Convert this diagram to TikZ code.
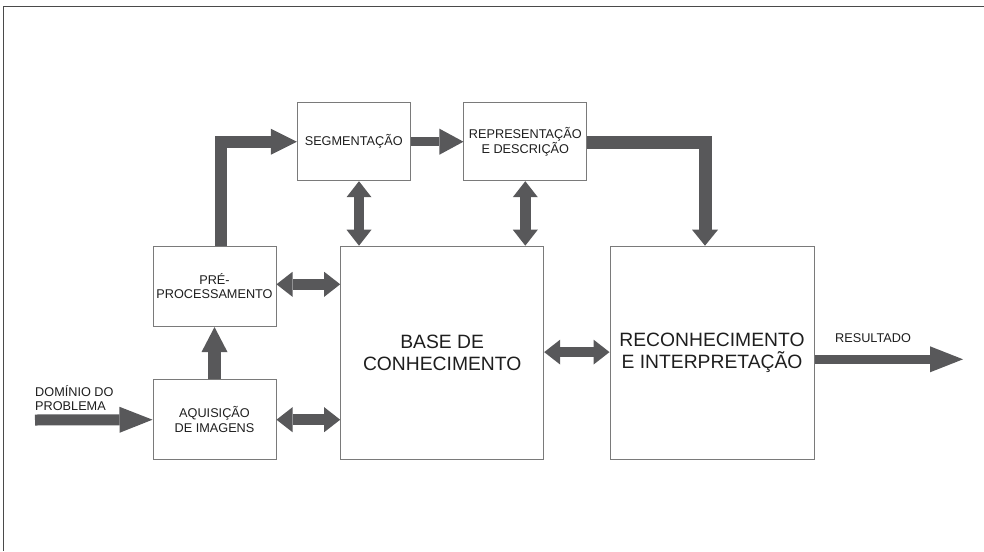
\documentclass[tikz,border=0pt]{standalone}
\usepackage{fontspec}
\setmainfont{Liberation Sans}
\usepackage{xcolor}
\usepackage{tikz}
\usetikzlibrary{arrows.meta, positioning}
\definecolor{arrowgray}{HTML}{58585A}
\definecolor{boxgray}{HTML}{7A7A7A}
\definecolor{framegray}{HTML}{4A4A4A}
\definecolor{inkgray}{HTML}{1E1E1E}

\begin{document}
\begin{tikzpicture}[
        x=1pt, y=-1pt,
        text=inkgray,
        stage/.style={
            draw=boxgray,
            line width=1pt,
            align=center,
            inner sep=0pt,
            font=\fontsize{12.7}{14.5}\selectfont
        },
        bigstage/.style={
            stage,
            minimum width=203pt,
            minimum height=213pt,
            font=\fontsize{19.3}{21.5}\selectfont
        },
        tag/.style={
            align=left,
            inner sep=0pt,
            font=\fontsize{12.7}{14.5}\selectfont
        },
        fat/.style={
            draw=arrowgray,
            line width=12pt,
            -{Triangle[length=#1, width=26pt, line width=0pt]}
        },
        fat/.default=26pt,
        twoway/.style={
            draw=arrowgray,
            line width=10.5pt,
            {Triangle[length=16pt, width=25pt, line width=0pt]}-{Triangle[length=16pt, width=25pt, line width=0pt]}
        }
    ]
        \useasboundingbox (0,0) rectangle (984,551);
        \draw[framegray, line width=1.2pt] (984,6.5) -- (3.7,6.5) -- (3.7,551);

        \node[stage, minimum width=123pt, minimum height=80.5pt] (pre) at (214.5,286.3) {PRÉ-\\PROCESSAMENTO};
        \node[stage, minimum width=123pt, minimum height=79.5pt] (aqu) at (214.5,419.7) {AQUISIÇÃO\\DE IMAGENS};
        \node[stage, minimum width=112.7pt, minimum height=78pt] (seg) at (353.7,141.7) {SEGMENTAÇÃO};
        \node[stage, minimum width=122.7pt, minimum height=78pt] (rep) at (525.3,141.7) {REPRESENTAÇÃO\\E DESCRIÇÃO};
        \node[bigstage] (base) at (442.2,352.7) {BASE DE\\CONHECIMENTO};
        \node[bigstage, minimum width=204pt] (rec) at (712,352.7) {RECONHECIMENTO\\E INTERPRETAÇÃO};

        \coordinate (in) at (35,420);
        \coordinate (out) at (963,359.3);
        \node[tag, anchor=south west] (dom) at (35,411) {DOMÍNIO DO\\PROBLEMA};
        \node[tag, anchor=south west] (res) at (835,343) {RESULTADO};

        % flow of the stages
        \draw[fat=33pt, line width=11pt] (in) -- (aqu.west);
        \draw[fat=25pt, line width=13pt] (aqu.north) -- (pre.south);
        \draw[fat] ([xshift=6.5pt]pre.north) |- (seg.west);
        \draw[fat=24pt, line width=9.5pt] (seg.east) -- (rep.west);
        \draw[fat=16pt, line width=13pt] ([yshift=-1pt]rep.east) -| ([xshift=-7pt]rec.north);
        \draw[fat=33pt, line width=9.5pt] ([yshift=-6.6pt]rec.east) -- (out);

        % exchange with the knowledge base
        \draw[twoway] ([yshift=2pt]pre.east) -- ([yshift=2pt]pre.east -| base.west);
        \draw[twoway] (aqu.east) -- (aqu.east -| base.west);
        \draw[twoway] ([xshift=5.3pt]seg.south) -- ([xshift=5.3pt]seg.south |- base.north);
        \draw[twoway] (rep.south) -- (rep.south |- base.north);
        \draw[twoway] ([yshift=0.6pt]base.east) -- ([yshift=0.6pt]rec.west);
    \end{tikzpicture}
\end{document}
